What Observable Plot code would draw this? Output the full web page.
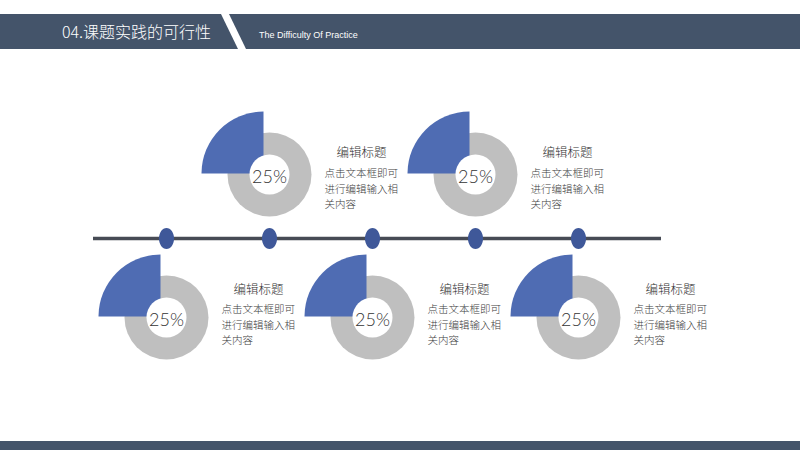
<!DOCTYPE html>
<html>
<head>
<meta charset="utf-8">
<script src="https://cdn.jsdelivr.net/npm/d3@7"></script>
<script src="https://cdn.jsdelivr.net/npm/@observablehq/plot@0.6"></script>
<style>
  html, body { margin: 0; padding: 0; background: #fff; }
  #slide { position: relative; width: 800px; height: 450px; overflow: hidden; background: #fff; }
  #chart { position: absolute; left: 0; top: 0; }
  .bar { position: absolute; background: #44546a; z-index: 2; }
  .htext { position: absolute; color: #fff; z-index: 3; white-space: nowrap; }
</style>
</head>
<body>
<div id="slide">
  <div id="chart"></div>
  <div class="bar" style="left:0;top:14px;width:800px;height:35px;clip-path:polygon(0 0, 221px 0, 238px 100%, 0 100%);"></div>
  <div class="bar" style="left:0;top:14px;width:800px;height:35px;clip-path:polygon(229px 0, 100% 0, 100% 100%, 246px 100%);"></div>
  <div class="htext" id="h1" style="left:62px;top:14px;height:35px;line-height:35px;font-size:16px;font-weight:300;font-family:'Noto Sans CJK SC','Noto Sans',sans-serif;"></div>
  <div class="htext" id="h2" style="left:259px;top:28px;line-height:14px;font-size:9px;font-family:'Liberation Sans',Arial,sans-serif;"></div>
  <div class="bar" style="left:0;top:441px;width:800px;height:9px;"></div>
</div>
<script>
// ---- data ----
const headerTitle = "04.课题实践的可行性";
const headerSubtitle = "The Difficulty Of Practice";
const steps = ["1", "2", "3", "4", "5"];
const sides = ["bottom", "top", "bottom", "top", "bottom"];
const percents = [25, 25, 25, 25, 25];
const percentLabels = ["25%", "25%", "25%", "25%", "25%"];
const titles = ["编辑标题", "编辑标题", "编辑标题", "编辑标题", "编辑标题"];
const bodies = [
  "点击文本框即可\n进行编辑输入相\n关内容",
  "点击文本框即可\n进行编辑输入相\n关内容",
  "点击文本框即可\n进行编辑输入相\n关内容",
  "点击文本框即可\n进行编辑输入相\n关内容",
  "点击文本框即可\n进行编辑输入相\n关内容"
];

document.getElementById("h1").textContent = headerTitle;
document.getElementById("h2").textContent = headerSubtitle;

const items = steps.map((s, i) => ({
  step: s, side: sides[i], pct: percents[i], label: percentLabels[i],
  title: titles[i], body: bodies[i]
}));

// ---- layout ----
const rows = {
  top:    { cy: 174, titleY: 152, bodyY: 166 },
  bottom: { cy: 317, titleY: 289, bodyY: 302 }
};
const lineY = 238;
const blue = "#4f6cb3";
const dotBlue = "#3f5899";
const gray = "#bfbfbf";
const cjk = "'Noto Sans CJK SC', 'Noto Sans', sans-serif";

// pie-slice symbol (share p of a turn), drawn clockwise so that it ends at 12 o'clock
function sectorSymbol(p) {
  return {
    draw(ctx, size) {
      const r = Math.sqrt(size / Math.PI);
      const a1 = -Math.PI / 2, a0 = a1 - 2 * Math.PI * p;
      ctx.moveTo(0, 0);
      ctx.lineTo(r * Math.cos(a0), r * Math.sin(a0));
      ctx.arc(0, 0, r, a0, a1);
      ctx.closePath();
    }
  };
}
// vertically elongated ellipse symbol for the timeline nodes
const ellipseSymbol = {
  draw(ctx, size) {
    const ry = Math.sqrt(size / Math.PI), rx = ry * 0.72, k = 0.5523;
    ctx.moveTo(rx, 0);
    ctx.bezierCurveTo(rx, ry * k, rx * k, ry, 0, ry);
    ctx.bezierCurveTo(-rx * k, ry, -rx, ry * k, -rx, 0);
    ctx.bezierCurveTo(-rx, -ry * k, -rx * k, -ry, 0, -ry);
    ctx.bezierCurveTo(rx * k, -ry, rx, -ry * k, rx, 0);
    ctx.closePath();
  }
};

const cy = d => rows[d.side].cy;

const chart = Plot.plot({
  width: 800,
  height: 450,
  marginLeft: 93,
  marginRight: 139,
  marginTop: 0,
  marginBottom: 0,
  style: { background: "transparent", overflow: "visible" },
  x: { type: "point", domain: steps, range: [166, 578], padding: 0, axis: null },
  y: { domain: [0, 450], range: [0, 450], axis: null },
  marks: [
    // timeline
    Plot.ruleY([lineY], { stroke: "#474b55", strokeWidth: 3.5 }),
    Plot.dot(items, { x: "step", y: () => lineY, r: 10.5, symbol: ellipseSymbol, fill: dotBlue, stroke: "none" }),
    // gray ring
    Plot.dot(items, { x: "step", y: cy, r: 42, fill: gray, stroke: "none" }),
    // blue slice for each value
    ...items.map(d => Plot.dot([d], { x: "step", y: cy, r: 62, symbol: sectorSymbol(d.pct / 100), fill: blue, stroke: "none", dx: -6, dy: -1 })),
    // hole
    Plot.dot(items, { x: "step", y: cy, r: 20, fill: "white", stroke: "none" }),
    // percent label
    Plot.text(items, { x: "step", y: cy, text: "label", fontSize: 18, fontFamily: "Lato, 'Open Sans', sans-serif", fontWeight: 300, fill: "#333", dy: 3 }),
    // titles
    Plot.text(items, { x: "step", y: d => rows[d.side].titleY, text: "title", dx: 92, fontSize: 12.5, fontWeight: 300, fontFamily: cjk, fill: "#333" }),
    // body text
    Plot.text(items, { x: "step", y: d => rows[d.side].bodyY, text: "body", dx: 55, textAnchor: "start", lineAnchor: "top", lineHeight: 1.45, fontSize: 10.5, fontWeight: 300, fontFamily: cjk, fill: "#404040" })
  ]
});
document.getElementById("chart").appendChild(chart);
</script>
</body>
</html>
